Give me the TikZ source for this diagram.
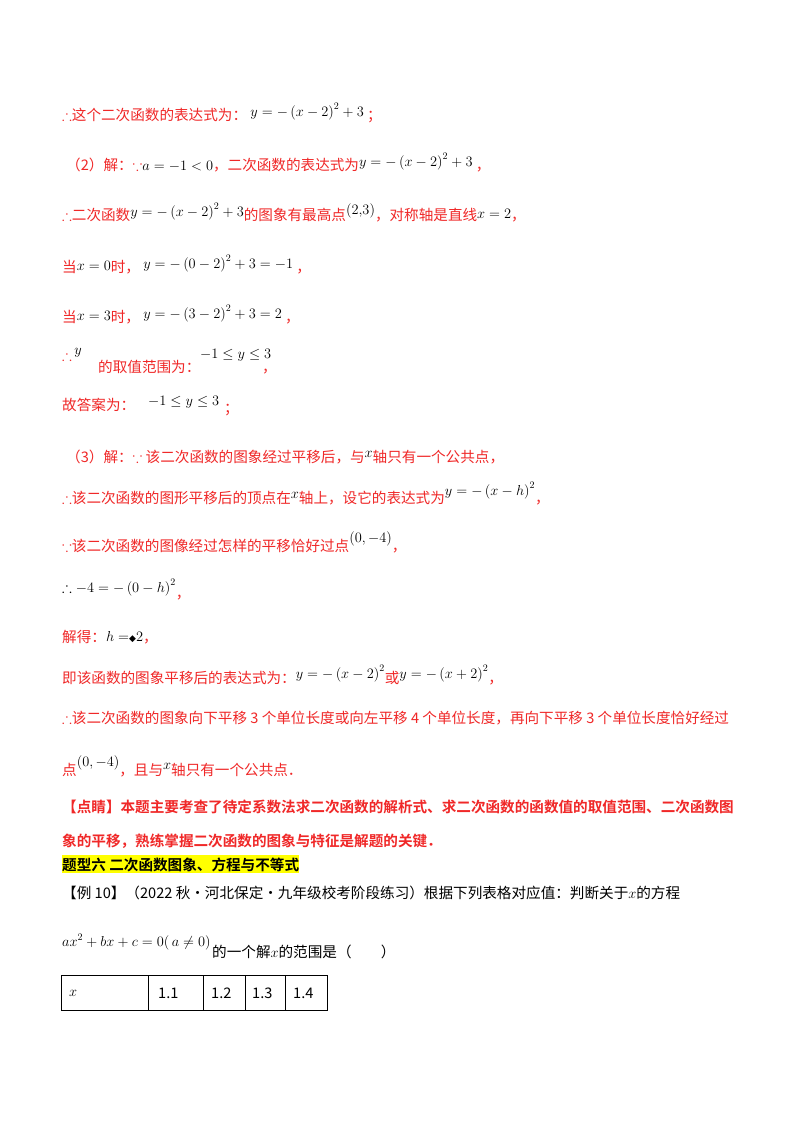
\documentclass[tikz,border=0pt]{standalone}
\usepackage{amssymb}
\usepackage{fontspec}
\newfontfamily\cjk{Noto Sans CJK SC}[BoldFont={Noto Sans CJK SC Bold}]
\newfontfamily\djv{DejaVu Sans}
\definecolor{ansred}{RGB}{240,40,40}
\definecolor{hl}{RGB}{255,255,0}
\tikzset{ln/.style={anchor=base west,inner sep=0pt,font=\cjk\fontsize{14.6}{16}\selectfont,text=ansred},
 bln/.style={ln,font=\cjk\bfseries\fontsize{14.6}{16}\selectfont},
 blk/.style={ln,text=black},
 cell/.style={draw,thick,minimum height=35pt,anchor=north west,inner sep=0pt}}
\begin{document}
\begin{tikzpicture}[x=1pt,y=-1pt]
\useasboundingbox[fill=white] (0,0) rectangle (800,1132);
\node[ln] (l1) at (62,120) {$\therefore$这个二次函数的表达式为：\ \raisebox{4pt}{\color{black}$y=-\left(x-2\right)^2+3$}\ ；};
\node[ln] (l2) at (66,170) {（2）解：$\because${\color{black}$a=-1<0$}，二次函数的表达式为\raisebox{4pt}{\color{black}$y=-\left(x-2\right)^2+3$}\ ，};
\node[ln] (l3) at (62,220) {$\therefore$二次函数\raisebox{4pt}{\color{black}$y=-\left(x-2\right)^2+3$}的图象有最高点\raisebox{6pt}{\color{black}$\left(2{,}3\right)$}，对称轴是直线\raisebox{2pt}{\color{black}$x=2$}，};
\node[ln] (l4) at (62,272) {当\raisebox{2pt}{\color{black}$x=0$}时，\ \raisebox{4pt}{\color{black}$y=-\left(0-2\right)^2+3=-1$}\ ，};
\node[ln] (l5) at (62,322) {当\raisebox{2pt}{\color{black}$x=3$}时，\ \raisebox{4pt}{\color{black}$y=-\left(3-2\right)^2+3=2$}\ ，};
\node[ln] (l6a) at (62,360) {$\therefore$\,\raisebox{6pt}{\color{black}$y$}};
\node[ln] (l6b) at (98,372) {的取值范围为：};
\node[ln] (l6c) at (200,358) {\color{black}$-1\le y\le 3$};
\node[ln] (l6d) at (262,372) {，};
\node[ln] (l7a) at (62,410) {故答案为：};
\node[ln] (l7b) at (148,405) {\color{black}$-1\le y\le 3$};
\node[ln] (l7c) at (224,413) {；};
\node[ln] (l8) at (66,462) {（3）解：$\because$ 该二次函数的图象经过平移后，与\raisebox{5pt}{\color{black}$x$}轴只有一个公共点，};
\node[ln] (l9) at (62,503) {$\therefore$该二次函数的图形平移后的顶点在\raisebox{5pt}{\color{black}$x$}轴上，设它的表达式为\raisebox{8pt}{\color{black}$y=-\left(x-h\right)^2$}，};
\node[ln] (l10) at (62,551) {$\because$该二次函数的图像经过怎样的平移恰好过点\raisebox{9pt}{\color{black}$\left(0,-4\right)$}，};
\node[ln] (l11) at (62,592) {\color{black}$\therefore-4=-\left(0-h\right)^2$\raisebox{-6pt}{\color{ansred}，}};
\node[ln] (l12) at (62,642) {解得：\raisebox{1pt}{\color{black}$h=${\djv\small◆}$2$}，};
\node[ln] (l13) at (62,683) {即该函数的图象平移后的表达式为：\raisebox{5pt}{\color{black}$y=-\left(x-2\right)^2$}或\raisebox{5pt}{\color{black}$y=-\left(x+2\right)^2$}，};
\node[ln] (l14) at (62,723) {$\therefore$该二次函数的图象向下平移 3 个单位长度或向左平移 4 个单位长度，再向下平移 3 个单位长度恰好经过};
\node[ln] (l15) at (62,775) {点\raisebox{9pt}{\color{black}$\left(0,-4\right)$}，且与\raisebox{6pt}{\color{black}$x$}轴只有一个公共点．};
\node[bln] (l16) at (62,812) {【点睛】本题主要考查了待定系数法求二次函数的解析式、求二次函数的函数值的取值范围、二次函数图};
\node[bln] (l17) at (62,846) {象的平移，熟练掌握二次函数的图象与特征是解题的关键．};
\node[bln,text=black,fill=hl,inner ysep=2pt] (l18) at (62,870) {题型六\ 二次函数图象、方程与不等式};
\node[blk] (l19) at (62,898) {【例 10】（2022 秋·河北保定·九年级校考阶段练习）根据下列表格对应值：判断关于$x$的方程};
\node[blk] (l20a) at (62,946) {$ax^2+bx+c=0(\,a\ne0)$};
\node[blk] (l20b) at (212,957) {的一个解$x$的范围是（\qquad）};
\node[cell,minimum width=87pt] (c1) at (61,975) {};
\node[cell,minimum width=55pt] (c2) at (148,975) {};
\node[cell,minimum width=42pt] (c3) at (203,975) {};
\node[cell,minimum width=40pt] (c4) at (245,975) {};
\node[cell,minimum width=42pt] (c5) at (285,975) {};
\node[blk,anchor=west] (t1) at ([xshift=8pt]c1.west) {$x$};
\node[blk,anchor=west] (t2) at ([xshift=10pt]c2.west) {1.1};
\node[blk,anchor=west] (t3) at ([xshift=8pt]c3.west) {1.2};
\node[blk,anchor=west] (t4) at ([xshift=7pt]c4.west) {1.3};
\node[blk,anchor=west] (t5) at ([xshift=8pt]c5.west) {1.4};
\end{tikzpicture}
\end{document}
